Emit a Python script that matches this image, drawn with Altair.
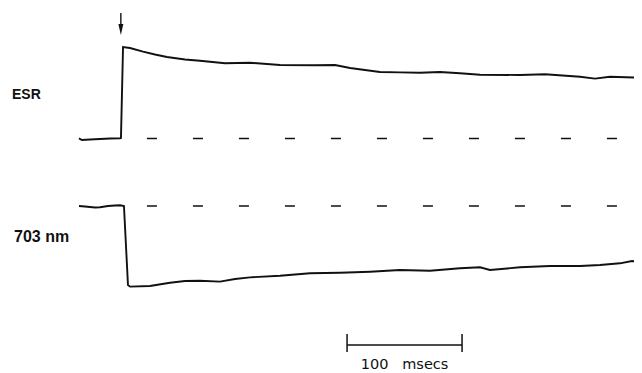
import altair as alt
import pandas as pd

# ESR trace (time in ms after flash, signal in % of peak)
esr_t = [-37.4, -34.8, -27.8, -19.1, -10.4, -1.7, -0.9, 0.9, 7.0, 18.3, 28.7, 39.1, 54.8, 67.8,
         89.6, 111.3, 137.4, 167.8, 185.2, 198.3, 211.3, 224.3, 241.7, 259.1, 276.5, 293.9,
         311.3, 346.1, 367.8, 398.3, 411.3, 424.3, 452.2]
esr_v = [0.2, -1.6, -1.1, -0.5, 0.0, 0.2, 0.5, 100.0, 98.9, 94.9, 91.8, 89.1, 86.3, 85.0,
         82.2, 82.8, 80.3, 80.0, 80.3, 77.0, 74.9, 72.7, 72.3, 71.9, 72.7, 71.3,
         69.7, 69.4, 70.2, 67.5, 65.4, 67.5, 66.4]

# 703 nm absorbance trace (time in ms, signal in % of max bleaching)
nm_t = [-37.4, -32.2, -23.5, -19.1, -12.2, -6.1, -1.7, 1.7, 5.2, 7.0, 24.3, 41.7, 54.8, 67.8,
        85.2, 98.3, 111.3, 137.4, 163.5, 189.6, 215.7, 241.7, 267.8, 293.9, 311.3, 320.0,
        346.1, 372.2, 398.3, 415.7, 433.0, 443.5, 452.2]
nm_v = [0.0, -0.6, -1.9, -1.6, 0.0, 0.6, 0.9, 0.0, -98.1, -100.2, -99.4, -95.3, -93.2, -92.8,
        -94.0, -90.7, -88.6, -86.6, -83.6, -82.9, -81.6, -79.5, -80.4, -77.4, -76.1, -79.5,
        -76.1, -74.5, -74.5, -73.3, -71.2, -68.3, -70.4]

# baseline dashed reference lines (ms)
dash_t = [21.7, 452.2]
# flash marker time (ms)
flash_t = -1.0
# time scale bar (ms)
bar_start = 195.7
bar_len = 100
bar_label = "100\u00a0\u00a0\u00a0msecs"

esr_df = pd.DataFrame({"t": esr_t, "v": esr_v})
nm_df = pd.DataFrame({"t": nm_t, "v": nm_v})
dash_df = pd.DataFrame({"t": [dash_t[0]], "t2": [dash_t[1]], "v": [0.0]})
bar_df = pd.DataFrame({"t": [bar_start, bar_start + bar_len]})

W, H = 626, 365
xs = alt.Scale(domain=[0, 100], range=[114, 229])
ys_esr = alt.Scale(domain=[0, 100], range=[130.5, 39])
ys_nm = alt.Scale(domain=[-100, 0], range=[278.5, 198])

INK = "#111111"

esr_line = alt.Chart(esr_df).mark_line(color=INK, strokeWidth=1.9, clip=True).encode(
    x=alt.X("t:Q", scale=xs, axis=None),
    y=alt.Y("v:Q", scale=ys_esr, axis=None),
    order="t:Q",
)
esr_dash = alt.Chart(dash_df).mark_rule(color=INK, strokeWidth=1.6, strokeDash=[10, 36], clip=True).encode(
    x=alt.X("t:Q", scale=xs, axis=None),
    x2="t2:Q",
    y=alt.Y("v:Q", scale=ys_esr, axis=None),
)
nm_line = alt.Chart(nm_df).mark_line(color=INK, strokeWidth=1.9, clip=True).encode(
    x=alt.X("t:Q", scale=xs, axis=None),
    y=alt.Y("v:Q", scale=ys_nm, axis=None),
    order="t:Q",
)
nm_dash = alt.Chart(dash_df).mark_rule(color=INK, strokeWidth=1.6, strokeDash=[10, 36], clip=True).encode(
    x=alt.X("t:Q", scale=xs, axis=None),
    x2="t2:Q",
    y=alt.Y("v:Q", scale=ys_nm, axis=None),
)

flash_df = pd.DataFrame({"t": [flash_t]})
arrow_shaft = alt.Chart(flash_df).mark_rule(color=INK, strokeWidth=1.4).encode(
    x=alt.X("t:Q", scale=xs, axis=None),
    y=alt.value(5),
    y2=alt.value(22),
)
arrow_head = alt.Chart(flash_df).mark_point(
    shape="M-0.45,-1L0.45,-1L0,1Z", filled=True, color=INK, opacity=1, size=121
).encode(
    x=alt.X("t:Q", scale=xs, axis=None),
    y=alt.value(21.5),
)

bar_h = alt.Chart(bar_df).mark_rule(color=INK, strokeWidth=1.5).encode(
    x=alt.X("min(t):Q", scale=xs, axis=None),
    x2="max(t):Q",
    y=alt.value(337),
)
bar_ticks = alt.Chart(bar_df).mark_rule(color=INK, strokeWidth=1.5).encode(
    x=alt.X("t:Q", scale=xs, axis=None),
    y=alt.value(326),
    y2=alt.value(344),
)
bar_text_df = pd.DataFrame({"t": [bar_start + bar_len / 2], "label": [bar_label]})
bar_text = alt.Chart(bar_text_df).mark_text(
    font="DejaVu Sans", fontSize=14.5, color=INK, align="center", baseline="alphabetic"
).encode(
    x=alt.X("t:Q", scale=xs, axis=None),
    y=alt.value(361),
    text="label:N",
)

labels_df = pd.DataFrame({"label": ["ESR"]})
esr_label = alt.Chart(labels_df).mark_text(
    font="Liberation Sans", fontSize=14, fontWeight="bold", color=INK, align="left", baseline="alphabetic"
).encode(x=alt.value(4), y=alt.value(91), text="label:N")
nm_label_df = pd.DataFrame({"label": ["703 nm"]})
nm_label = alt.Chart(nm_label_df).mark_text(
    font="Liberation Sans", fontSize=16, fontWeight="bold", color=INK, align="left", baseline="alphabetic"
).encode(x=alt.value(6), y=alt.value(234), text="label:N")

chart = alt.layer(
    esr_dash, esr_line, nm_dash, nm_line, arrow_shaft, arrow_head,
    bar_h, bar_ticks, bar_text, esr_label, nm_label,
).resolve_scale(y="independent").properties(
    width=W, height=H, padding=0,
    autosize=alt.AutoSizeParams(type="none"),
    background="white",
).configure_view(stroke=None)

chart.save("out.html", embed_options={"renderer": "svg", "actions": False})
